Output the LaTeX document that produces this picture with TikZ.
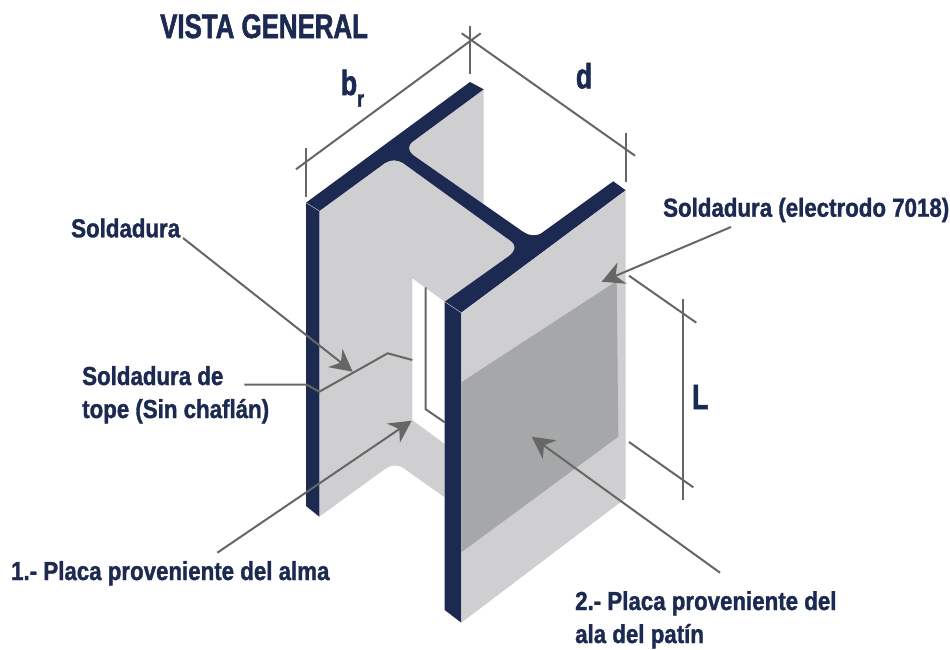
\documentclass[tikz,border=0pt]{standalone}
\usepackage{fontspec}
\newfontfamily\negrita[FakeStretch=0.857,FakeBold=1.3]{Liberation Sans Bold}
\newfontfamily\negritaalta[FakeStretch=0.76,FakeBold=1.6]{Liberation Sans Bold}
\usetikzlibrary{arrows.meta}
\definecolor{marino}{HTML}{1C2951}
\definecolor{placa}{HTML}{CFCFD1}
\definecolor{sombra}{HTML}{A6A7A9}
\definecolor{linea}{HTML}{666664}
\tikzset{
  etiqueta/.style={text=marino, font=\negrita\fontsize{26}{33}\selectfont, inner sep=0pt, align=left, anchor=base west},
  cota/.style={text=marino, font=\negritaalta\fontsize{35}{35}\selectfont, inner sep=0pt, anchor=base west},
  guia/.style={draw=linea, line width=2pt},
  arista/.style={draw=placa, line width=0.4pt},
  flecha/.style={guia, -{Stealth[length=22pt, width=23pt, inset=7pt]}}
}
\begin{document}
\begin{tikzpicture}[x=1pt, y=-1pt]
  \useasboundingbox (0,0) rectangle (950,649);

  % alma y patin posterior
  \fill[placa] (483.7,89.3)-- (483.7,204)-- (413,155)
    .. controls (408,151) and (407,145) .. (414,140.7)-- cycle;
  \fill[placa] (319.3,211)-- (385,163) .. controls (391,159) and (398,160) .. (403,163)
    -- (511.7,241.7) .. controls (516,245) and (516,251) .. (508,256.7)
    -- (444.7,301.7)-- (412.3,278.3)-- (412.3,420)-- (444.7,444)-- (444.7,497.3)
    -- (403.3,468) .. controls (397,464) and (391,465) .. (385,469)
    -- (319.3,516.7)-- cycle;

  % perfil en negro
  \fill[marino] (470,82)-- (483.7,89.3)-- (414,140.7)
    .. controls (407,145) and (408,151) .. (413,155)
    -- (523,231.7) .. controls (529,236) and (537,237) .. (543,232)
    -- (613.3,181.3)-- (625.7,190.3)-- (461.3,312.7)-- (444.7,301.7)
    -- (508,256.7) .. controls (516,251) and (516,245) .. (511.7,241.7)
    -- (403,163) .. controls (398,160) and (391,159) .. (385,163)
    -- (319.3,211)-- (306,202.7)-- cycle;
  \fill[marino] (306,202.7)-- (319.3,211)-- (319.3,516.7)-- (306,506)-- cycle;
  \fill[marino] (444.7,301.7)-- (461.3,312.7)-- (461.3,622.7)-- (444.7,610)-- cycle;
  \draw[arista] (306,202.7)-- (319.3,211);
  \draw[arista] (444.7,301.7)-- (461.3,312.7);

  % patin frontal
  \fill[placa] (461.3,312.7)-- (625.7,190.3)-- (625.7,498.3)-- (461.3,622.7)-- cycle;
  \fill[sombra] (461.3,382.3)-- (616.7,281)-- (618.3,436.7)-- (461.3,552.3)-- cycle;

  % cotas
  \coordinate (brA) at (296,169.3);
  \coordinate (brB) at (480.7,33.3);
  \coordinate (dA) at (461.7,33.3);
  \coordinate (dB) at (635,155.7);
  \draw[guia] (brA)-- (brB);
  \draw[guia] (dA)-- (dB);
  \draw[guia] (470,25.7)-- (470,74.3);
  \draw[guia] (306,148.3)-- (306,196.7);
  \draw[guia] (626,133.3)-- (626,181.7);
  \draw[guia] (629,275.7)-- (696.3,322.7);
  \draw[guia] (629,442)-- (693.3,487.3);
  \draw[guia] (682.7,299.3)-- (682.7,500);

  % soldadura
  \draw[guia] (244.3,384.7)-- (306.7,384.7)-- (319.3,391.7)-- (387.7,353.3)-- (412.3,360);
  \draw[guia] (425.7,287.3)-- (425.7,409.3)-- (444.7,422.3);

  % textos
  \node[etiqueta, font=\negritaalta\fontsize{34}{34}\selectfont] (titulo) at (160,38) {VISTA GENERAL};
  \node[cota] (ancho) at (340.7,95) {b};
  \node[cota, font=\negritaalta\fontsize{23}{23}\selectfont] (anchosub) at (357,106.7) {r};
  \node[cota] (peralte) at (575.7,88.3) {d};
  \node[cota] (largo) at (692,409) {L};
  \node[etiqueta] (sold) at (71,237.3) {Soldadura};
  \node[etiqueta] (electrodo) at (663,216.7) {Soldadura (electrodo 7018)};
  \node[etiqueta] (tope) at (82,385) {Soldadura de};
  \node[etiqueta] (tope2) at (82,418) {tope (Sin chaflán)};
  \node[etiqueta] (placauno) at (11,580) {1.- Placa proveniente del alma};
  \node[etiqueta] (placados) at (575,610) {2.- Placa proveniente del};
  \node[etiqueta] (placados2) at (575,643) {ala del patín};

  % flechas
  \coordinate (p1) at (183,238);
  \coordinate (t1) at (352.7,371.7);
  \coordinate (p2) at (731,227);
  \coordinate (t2) at (601.7,281.7);
  \coordinate (p3) at (217.3,552.7);
  \coordinate (t3) at (411.7,420.7);
  \coordinate (p4) at (720,572.7);
  \coordinate (t4) at (531.7,436.7);
  \draw[flecha] (p1)-- (t1);
  \draw[flecha] (p2)-- (t2);
  \draw[flecha] (p3)-- (t3);
  \draw[flecha] (p4)-- (t4);
\end{tikzpicture}
\end{document}
